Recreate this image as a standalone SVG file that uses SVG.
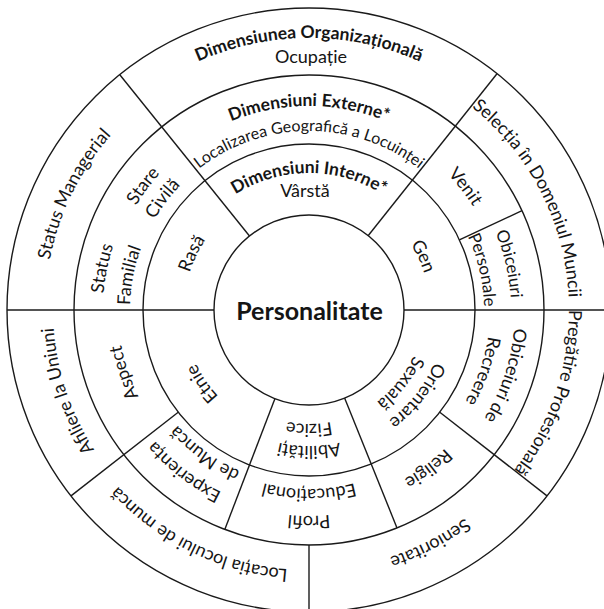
<svg xmlns="http://www.w3.org/2000/svg" xmlns:xlink="http://www.w3.org/1999/xlink" width="604" height="609" viewBox="0 0 604 609">
  <style>
    .ring { fill: none; stroke: #1a1a1a; stroke-width: 1.4; }
    .div { stroke: #1a1a1a; stroke-width: 1.4; fill: none; }
    text { font-family: Lato, "Noto Sans", "DejaVu Sans", sans-serif; fill: #151515; }
    .lbl { font-size: 18px; }
    .sm { font-size: 16px; }
    .mid { font-size: 17px; }
    .hd { font-size: 17.5px; font-weight: bold; }
    .core { font-size: 25px; font-weight: bold; }
  </style>
  <defs>
    <!-- clockwise circles around the centre (309,310), starting at the bottom so that 50% falls at the top -->
    <path id="c114" d="M309 424 A114 114 0 0 1 309 196 A114 114 0 0 1 309 424"/>
    <path id="c121" d="M309 431 A121 121 0 0 1 309 189 A121 121 0 0 1 309 431"/>
    <path id="c125" d="M309 435 A125 125 0 0 1 309 185 A125 125 0 0 1 309 435"/>
    <path id="c136" d="M309 446 A136 136 0 0 1 309 174 A136 136 0 0 1 309 446"/>
    <path id="c137" d="M309 447 A137 137 0 0 1 309 173 A137 137 0 0 1 309 447"/>
    <path id="c175" d="M309 485 A175 175 0 0 1 309 135 A175 175 0 0 1 309 485"/>
    <path id="c179" d="M309 489 A179 179 0 0 1 309 131 A179 179 0 0 1 309 489"/>
    <path id="c181" d="M309 491 A181 181 0 0 1 309 129 A181 181 0 0 1 309 491"/>
    <path id="c191" d="M309 501 A191 191 0 0 1 309 119 A191 191 0 0 1 309 501"/>
    <path id="c194" d="M309 504 A194 194 0 0 1 309 116 A194 194 0 0 1 309 504"/>
    <path id="c202" d="M309 512 A202 202 0 0 1 309 108 A202 202 0 0 1 309 512"/>
    <path id="c204" d="M309 514 A204 204 0 0 1 309 106 A204 204 0 0 1 309 514"/>
    <path id="c206" d="M309 516 A206 206 0 0 1 309 104 A206 206 0 0 1 309 516"/>
    <path id="c256" d="M309 566 A256 256 0 0 1 309 54 A256 256 0 0 1 309 566"/>
    <path id="c260" d="M309 570 A260 260 0 0 1 309 50 A260 260 0 0 1 309 570"/>
    <path id="c264" d="M309 574 A264 264 0 0 1 309 46 A264 264 0 0 1 309 574"/>
    <path id="c272" d="M309 582 A272 272 0 0 1 309 38 A272 272 0 0 1 309 582"/>
  </defs>

  <rect width="604" height="609" fill="#ffffff"/>

  <!-- concentric rings -->
  <g id="rings">
    <circle class="ring" cx="309" cy="310" r="302"/>
    <circle class="ring" cx="309" cy="310" r="235"/>
    <circle class="ring" cx="309" cy="310" r="166"/>
    <circle class="ring" cx="309" cy="310" r="95"/>
  </g>

  <!-- radial dividers -->
  <g id="connectors">
    <line class="div" x1="7" y1="310" x2="214" y2="310"/>
    <line class="div" x1="404" y1="310" x2="611" y2="310"/>
    <!-- -128.8 deg, r 95..302 -->
    <line class="div" x1="249.5" y1="236.0" x2="119.8" y2="74.7"/>
    <!-- -51.5 deg, r 95..302 -->
    <line class="div" x1="368.1" y1="235.7" x2="497.0" y2="73.7"/>
    <!-- -25 deg, r 166..235 -->
    <line class="div" x1="459.4" y1="239.8" x2="522.0" y2="210.7"/>
    <!-- 38 deg, r 166..302 -->
    <line class="div" x1="439.8" y1="412.2" x2="547.0" y2="495.9"/>
    <!-- 68 deg, r 95..235 -->
    <line class="div" x1="344.6" y1="398.1" x2="397.0" y2="527.9"/>
    <!-- 90 deg, r 235..302 -->
    <line class="div" x1="309" y1="545" x2="309" y2="612"/>
    <!-- 111 deg, r 95..235 -->
    <line class="div" x1="274.9" y1="398.7" x2="224.8" y2="529.4"/>
    <!-- 142 deg, r 166..302 -->
    <line class="div" x1="178.2" y1="412.2" x2="71.0" y2="495.9"/>
  </g>

  <g id="node-core">
    <text class="core" x="309.5" y="320" text-anchor="middle">Personalitate</text>
  </g>

  <!-- inner ring -->
  <g id="node-interne">
    <text class="hd" text-anchor="middle"><textPath href="#c137" startOffset="50%">Dimensiuni Interne*</textPath></text>
    <text class="lbl" x="305" y="197" text-anchor="middle">Vârstă</text>
  </g>
  <g id="node-gen">
    <text class="lbl" text-anchor="middle" transform="rotate(64.8 309 310)"><textPath href="#c121" startOffset="50%">Gen</textPath></text>
  </g>
  <g id="node-orientare">
    <text class="lbl" text-anchor="middle" transform="rotate(128.4 309 310)"><textPath href="#c136" startOffset="50%">Orientare</textPath></text>
    <text class="lbl" text-anchor="middle" transform="rotate(128.6 309 310)"><textPath href="#c114" startOffset="50%">Sexuală</textPath></text>
  </g>
  <g id="node-abilitati">
    <text class="lbl" text-anchor="middle" transform="rotate(180 309 310)"><textPath href="#c136" startOffset="50%">Abilități</textPath></text>
    <text class="lbl" text-anchor="middle" transform="rotate(180 309 310)"><textPath href="#c114" startOffset="50%">Fizice</textPath></text>
  </g>
  <g id="node-etnie">
    <text class="lbl" text-anchor="middle" transform="rotate(235.5 309 310)"><textPath href="#c125" startOffset="50%">Etnie</textPath></text>
  </g>
  <g id="node-rasa">
    <text class="lbl" text-anchor="middle" transform="rotate(-64.2 309 310)"><textPath href="#c125" startOffset="50%">Rasă</textPath></text>
  </g>

  <!-- middle ring -->
  <g id="node-externe">
    <text class="hd" text-anchor="middle"><textPath href="#c204" startOffset="50%">Dimensiuni Externe*</textPath></text>
    <text class="sm" text-anchor="middle"><textPath href="#c179" startOffset="50%">Localizarea Geografică a Locuinței</textPath></text>
  </g>
  <g id="node-venit">
    <text class="lbl" text-anchor="middle" transform="rotate(51.7 309 310)"><textPath href="#c194" startOffset="50%">Venit</textPath></text>
  </g>
  <g id="node-obiceiuri-personale">
    <text class="mid" text-anchor="middle" transform="rotate(77 309 310)"><textPath href="#c202" startOffset="50%">Obiceiuri</textPath></text>
    <text class="mid" text-anchor="middle" transform="rotate(77 309 310)"><textPath href="#c175" startOffset="50%">Personale</textPath></text>
  </g>
  <g id="node-obiceiuri-recreere">
    <text class="lbl" text-anchor="middle" transform="rotate(108.4 309 310)"><textPath href="#c206" startOffset="50%">Obiceiuri de</textPath></text>
    <text class="lbl" text-anchor="middle" transform="rotate(109.4 309 310)"><textPath href="#c181" startOffset="50%">Recreere</textPath></text>
  </g>
  <g id="node-religie">
    <text class="lbl" text-anchor="middle" transform="rotate(143.1 309 310)"><textPath href="#c194" startOffset="50%">Religie</textPath></text>
  </g>
  <g id="node-profil">
    <text class="lbl" text-anchor="middle" transform="rotate(180 309 310)"><textPath href="#c206" startOffset="50%">Profil</textPath></text>
    <text class="lbl" text-anchor="middle" transform="rotate(180 309 310)"><textPath href="#c179" startOffset="50%">Educațional</textPath></text>
  </g>
  <g id="node-experienta">
    <text class="lbl" text-anchor="middle" transform="rotate(217.6 309 310)"><textPath href="#c202" startOffset="50%">Experiența</textPath></text>
    <text class="lbl" text-anchor="middle" transform="rotate(216 309 310)"><textPath href="#c175" startOffset="50%">de Muncă</textPath></text>
  </g>
  <g id="node-aspect">
    <text class="lbl" text-anchor="middle" transform="rotate(251.3 309 310)"><textPath href="#c191" startOffset="50%">Aspect</textPath></text>
  </g>
  <g id="node-status-familial">
    <text class="lbl" text-anchor="middle" transform="rotate(-78.6 309 310)"><textPath href="#c206" startOffset="50%">Status</textPath></text>
    <text class="lbl" text-anchor="middle" transform="rotate(-79.1 309 310)"><textPath href="#c179" startOffset="50%">Familial</textPath></text>
  </g>
  <g id="node-stare-civila">
    <text class="lbl" text-anchor="middle" transform="rotate(-53.2 309 310)"><textPath href="#c202" startOffset="50%">Stare</textPath></text>
    <text class="lbl" text-anchor="middle" transform="rotate(-52.7 309 310)"><textPath href="#c179" startOffset="50%">Civilă</textPath></text>
  </g>

  <!-- outer ring -->
  <g id="node-organizationala">
    <text class="hd" text-anchor="middle"><textPath href="#c272" startOffset="50%">Dimensiunea Organizațională</textPath></text>
    <text class="lbl" x="311" y="63" text-anchor="middle">Ocupație</text>
  </g>
  <g id="node-selectia">
    <text class="lbl" text-anchor="middle" transform="rotate(63 309 310)"><textPath href="#c260" startOffset="50%">Selecția în Domeniul Muncii</textPath></text>
  </g>
  <g id="node-pregatire">
    <text class="lbl" text-anchor="middle" transform="rotate(109 309 310)"><textPath href="#c260" startOffset="50%">Pregătire Profesională</textPath></text>
  </g>
  <g id="node-senioritate">
    <text class="lbl" text-anchor="middle" transform="rotate(152.6 309 310)"><textPath href="#c260" startOffset="50%">Senioritate</textPath></text>
  </g>
  <g id="node-locatia">
    <text class="lbl" text-anchor="middle" transform="rotate(206 309 310)"><textPath href="#c260" startOffset="50%">Locația locului de muncă</textPath></text>
  </g>
  <g id="node-afiliere">
    <text class="lbl" text-anchor="middle" transform="rotate(251.5 309 310)"><textPath href="#c256" startOffset="50%">Afiliere la Uniuni</textPath></text>
  </g>
  <g id="node-status-managerial">
    <text class="lbl" text-anchor="middle" transform="rotate(-63.8 309 310)"><textPath href="#c264" startOffset="50%">Status Managerial</textPath></text>
  </g>
</svg>
